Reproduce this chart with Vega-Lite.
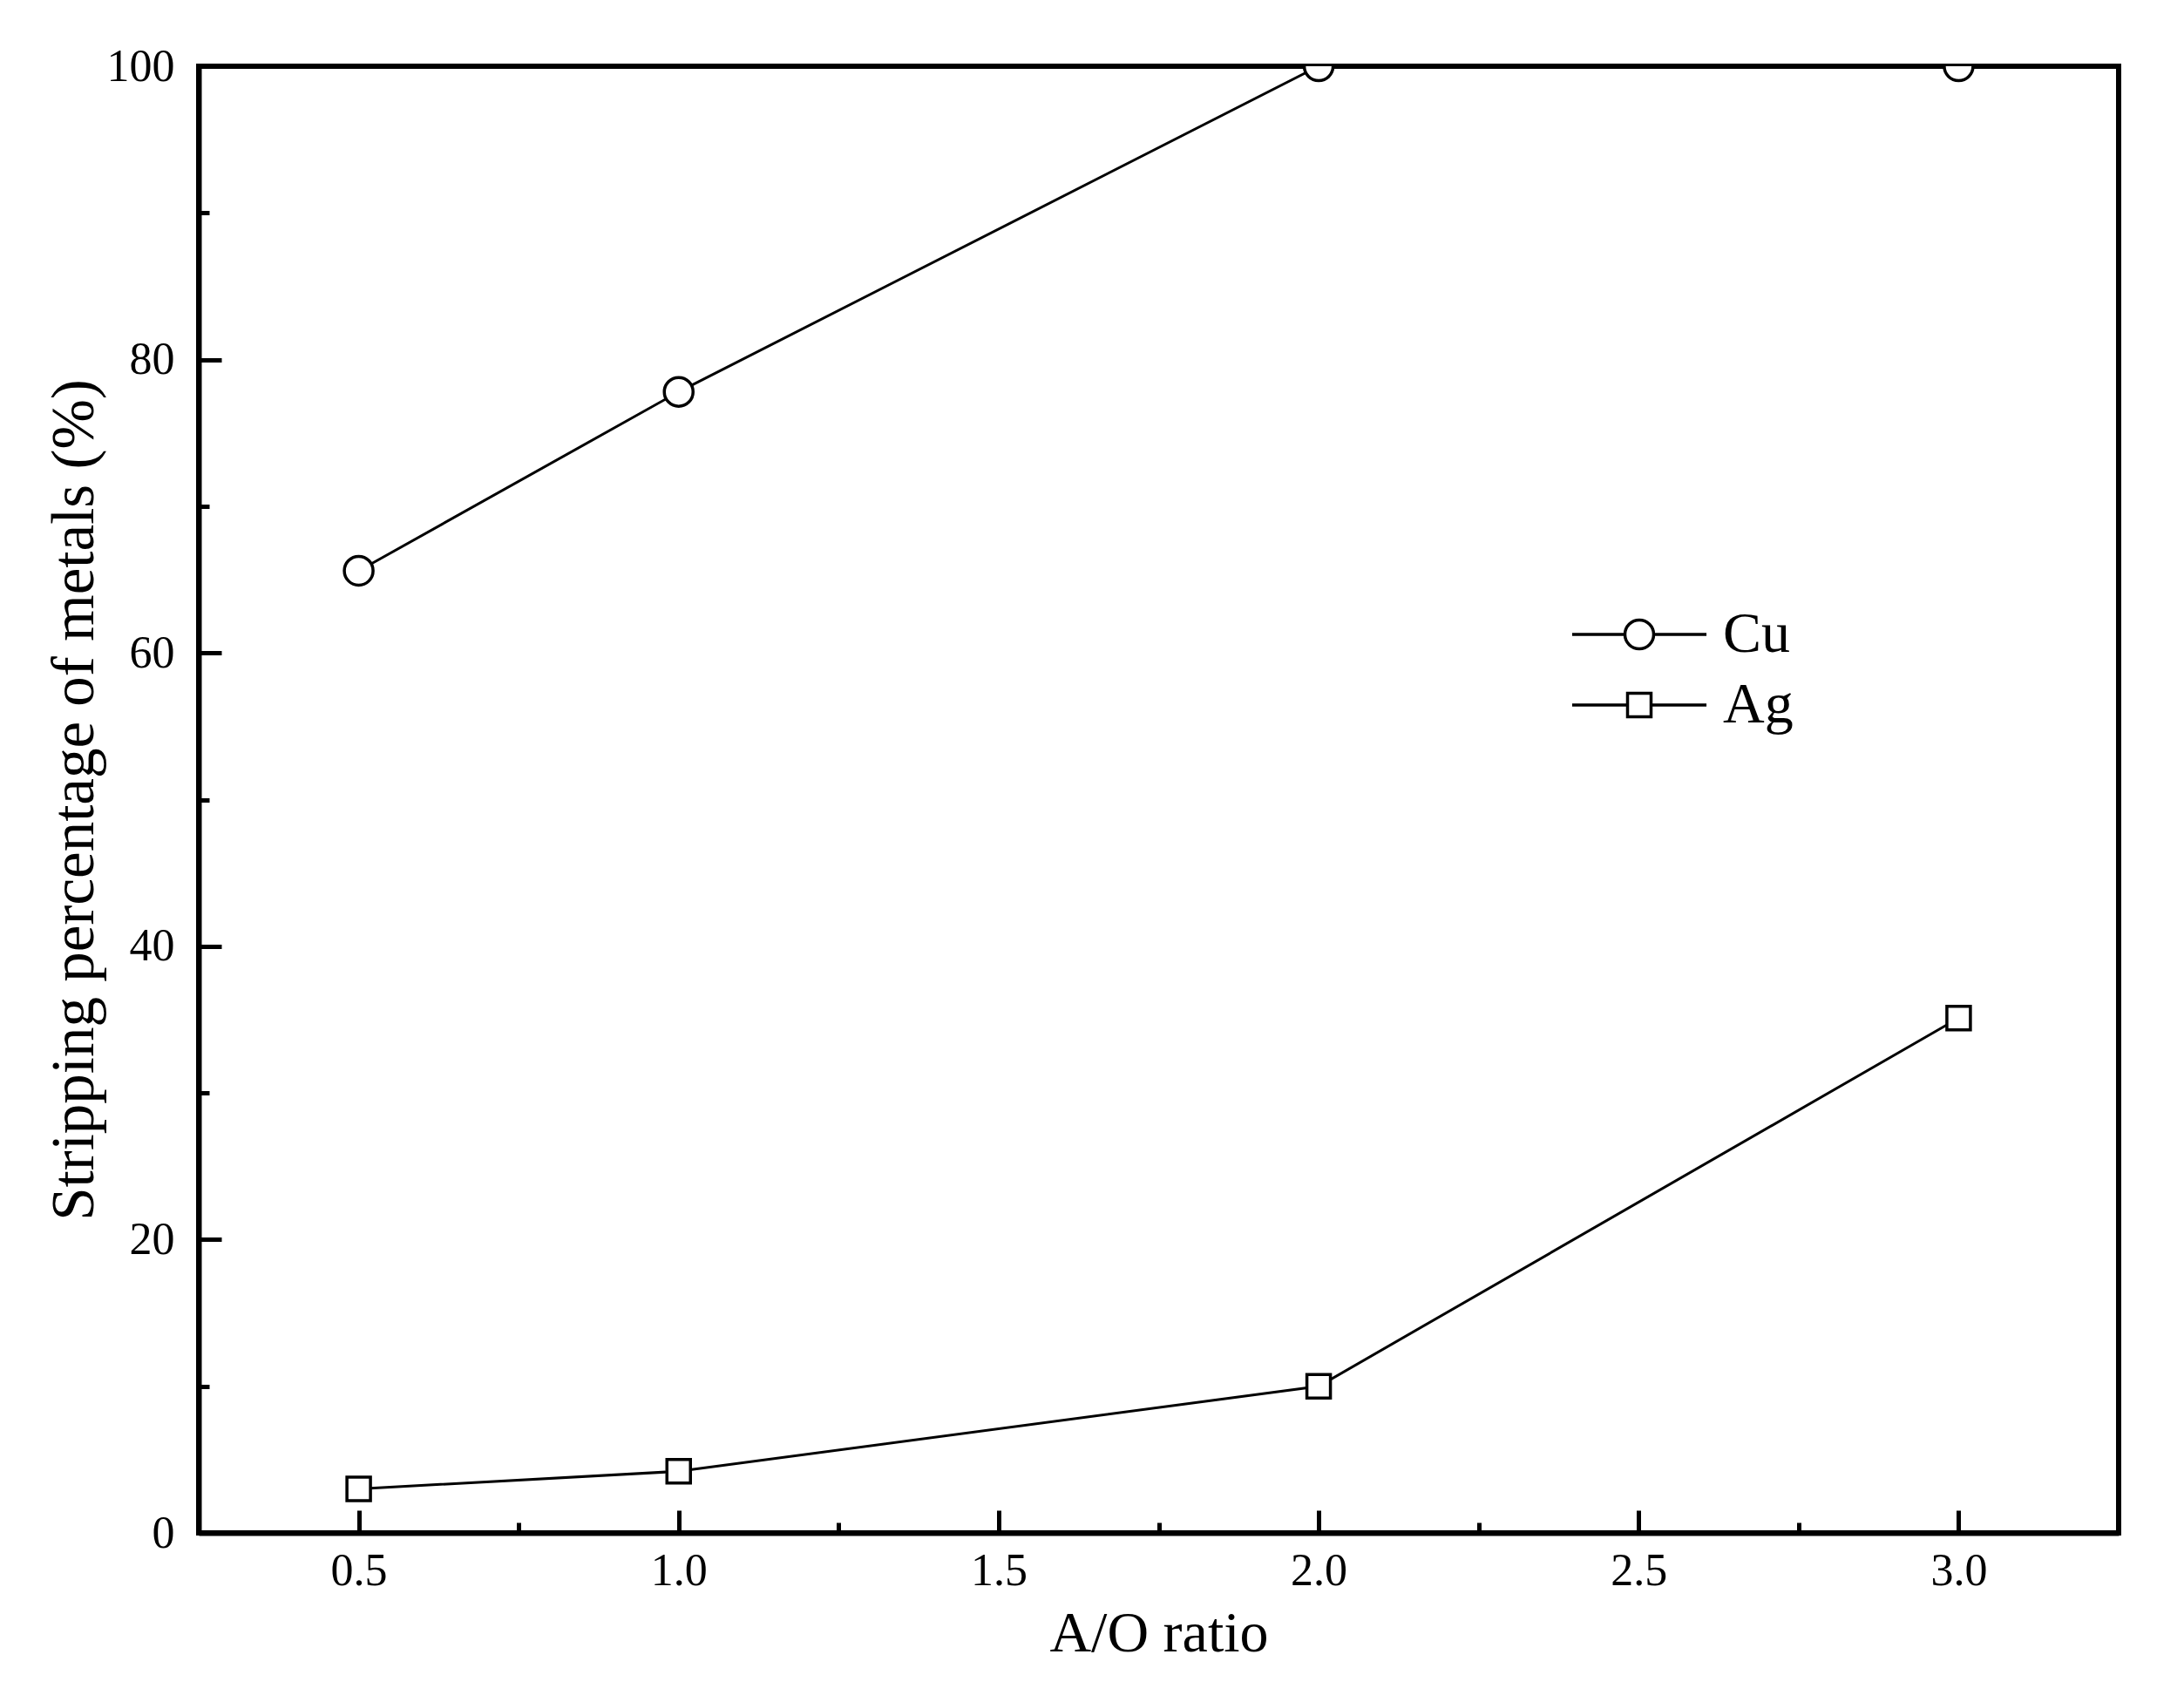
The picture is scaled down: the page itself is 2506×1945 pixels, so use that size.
{
  "$schema": "https://vega.github.io/schema/vega-lite/v6.json",
  "width": 2203,
  "height": 1683,
  "autosize": "none",
  "padding": {"left": 228, "top": 76, "right": 75, "bottom": 186},
  "background": "white",
  "config": {
    "view": {"stroke": "black", "strokeWidth": 6},
    "font": "Liberation Serif",
    "axis": {
      "domainColor": "black", "domainWidth": 6, "tickColor": "black", "tickWidth": 5,
      "grid": false, "labelFont": "Liberation Serif", "labelFontSize": 52, "labelColor": "black",
      "titleFont": "Liberation Serif", "titleColor": "black", "titleFontWeight": "normal"
    }
  },
  "data": {"values": [
    {"ratio": 0.5, "value": 65.6, "metal": "Cu"},
    {"ratio": 1.0, "value": 77.8, "metal": "Cu"},
    {"ratio": 2.0, "value": 100, "metal": "Cu"},
    {"ratio": 3.0, "value": 100, "metal": "Cu"},
    {"ratio": 0.5, "value": 3.0, "metal": "Ag"},
    {"ratio": 1.0, "value": 4.2, "metal": "Ag"},
    {"ratio": 2.0, "value": 10.0, "metal": "Ag"},
    {"ratio": 3.0, "value": 35.1, "metal": "Ag"}
  ]},
  "layer": [
    {
      "mark": {"type": "line", "color": "black", "strokeWidth": 3, "clip": true},
      "encoding": {
        "x": {"field": "ratio", "type": "quantitative",
          "scale": {"domain": [0.25, 3.25], "nice": false, "zero": false},
          "axis": {"orient": "bottom", "values": [0.5, 1, 1.5, 2, 2.5, 3], "format": ".1f",
            "tickSize": -26, "labelPadding": 44, "title": "A/O ratio", "titleFontSize": 66, "titlePadding": 14}},
        "y": {"field": "value", "type": "quantitative",
          "scale": {"domain": [0, 100], "nice": false},
          "axis": {"orient": "left", "values": [0, 20, 40, 60, 80, 100], "format": "d",
            "tickSize": -26, "labelPadding": 54, "title": "Stripping percentage of metals (%)", "titleFontSize": 69, "titlePadding": 2}},
        "detail": {"field": "metal"}
      }
    },
    {
      "mark": {"type": "point", "filled": true, "fill": "white", "stroke": "black", "strokeWidth": 3.5, "opacity": 1, "clip": true},
      "encoding": {
        "x": {"field": "ratio", "type": "quantitative", "axis": null},
        "y": {"field": "value", "type": "quantitative", "axis": null},
        "shape": {"field": "metal", "type": "nominal", "scale": {"domain": ["Cu", "Ag"], "range": ["circle", "square"]}, "legend": null},
        "size": {"field": "metal", "type": "nominal", "scale": {"domain": ["Cu", "Ag"], "range": [1089, 729]}, "legend": null}
      }
    },
    {
      "transform": [{"filter": "datum.ratio > 100"}],
      "mark": {"type": "point", "filled": false, "stroke": "black", "strokeWidth": 3.5},
      "encoding": {
        "x": {"field": "ratio", "type": "quantitative",
          "axis": {"orient": "bottom", "values": [0.75, 1.25, 1.75, 2.25, 2.75], "labels": false, "domain": false, "title": null, "tickSize": -12}},
        "y": {"field": "value", "type": "quantitative",
          "axis": {"orient": "left", "values": [10, 30, 50, 70, 90], "labels": false, "domain": false, "title": null, "tickSize": -12}},
        "shape": {"field": "metal", "type": "nominal",
          "scale": {"domain": ["Cu", "Ag"], "range": [
            "M-4.67,0H-1M1,0H4.67M-1,0A1,1,0,1,1,1,0A1,1,0,1,1,-1,0Z",
            "M-4.67,0H-0.818M0.818,0H4.67M-0.818,-0.818H0.818V0.818H-0.818Z"]},
          "legend": {"orient": "none", "legendX": 1620, "legendY": 619, "title": null, "padding": 0,
            "labelFont": "Liberation Serif", "labelFontSize": 66, "labelColor": "black", "labelOffset": 63,
            "symbolSize": 1089, "symbolOpacity": 1, "symbolFillColor": "white", "symbolStrokeColor": "black", "symbolStrokeWidth": 3.5,
            "rowPadding": 15,
            "encode": {"symbols": {"update": {
              "fill": {"value": "white"}, "stroke": {"value": "black"},
              "strokeWidth": {"value": 3.5}, "opacity": {"value": 1}, "size": {"value": 1089}}}}}}
      }
    }
  ],
  "resolve": {"scale": {"shape": "independent", "size": "independent"}, "axis": {"x": "independent", "y": "independent"}}
}
